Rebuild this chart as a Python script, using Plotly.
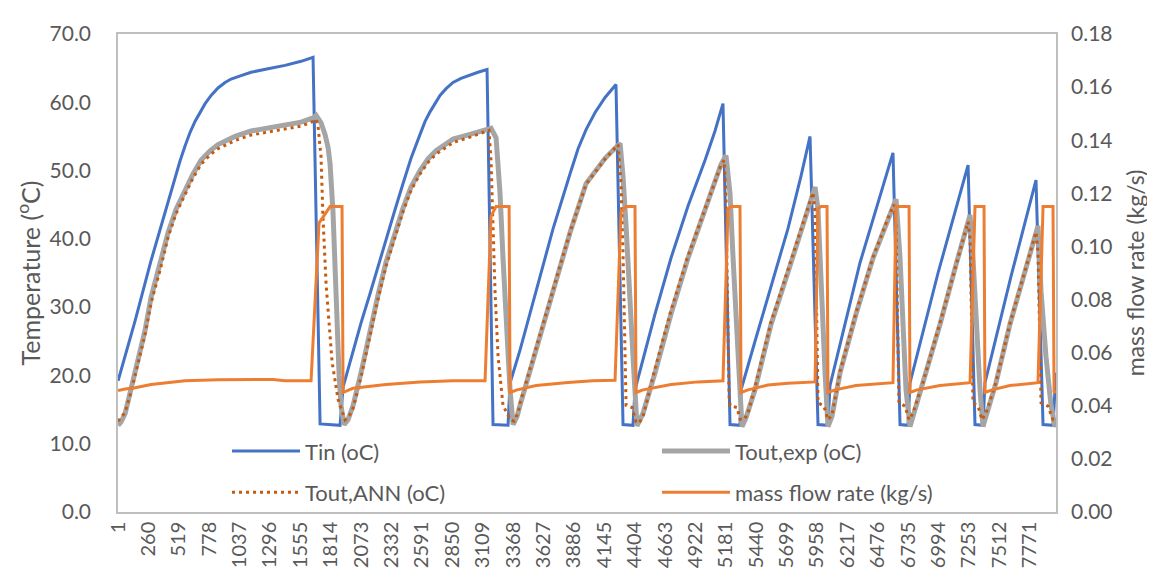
import plotly.graph_objects as go

# ---------------- data (sample index, value) ----------------
tin_x = [1, 27, 146, 282, 385, 427, 487, 529, 572, 615, 657, 700, 743, 794, 853, 913, 964, 1049, 1135, 1279, 1424, 1561, 1663, 1723, 1893,
         1919, 2004, 2072, 2149, 2217, 2285, 2362, 2430, 2498, 2575, 2618, 2660, 2703, 2745, 2797, 2856, 2924, 3001, 3069, 3146, 3197, 3325,
         3342, 3427, 3564, 3709, 3853, 3922, 3990, 4067, 4152, 4245, 4305, 4390,
         4407, 4578, 4714, 4859, 5004, 5089, 5157, 5217, 5302,
         5311, 5430, 5567, 5711, 5822, 5899, 5967, 6052,
         6069, 6325, 6606, 6666, 6734,
         6751, 6990, 7246, 7305, 7373,
         7390, 7612, 7825, 7885, 7970, 7995]
tin_y = [19.2, 20.8, 28.0, 36.8, 43.0, 45.6, 48.9, 51.4, 53.6, 55.6, 57.2, 58.6, 59.8, 61.0, 62.1, 62.9, 63.4, 63.9, 64.4, 64.9, 65.4, 66.0, 66.6, 12.9, 12.7,
         18.3, 23.6, 27.7, 32.0, 36.0, 40.0, 44.3, 48.1, 51.8, 55.3, 57.2, 58.6, 59.9, 61.0, 62.0, 62.9, 63.5, 64.0, 64.4, 64.8, 12.8, 12.7,
         18.9, 23.7, 32.3, 41.5, 49.5, 53.2, 56.0, 58.5, 60.7, 62.6, 12.8, 12.7,
         17.9, 29.0, 37.2, 44.8, 51.5, 55.8, 59.8, 12.8, 12.7,
         17.9, 25.0, 33.0, 41.5, 49.2, 55.0, 12.8, 12.7,
         18.5, 36.5, 52.6, 12.8, 12.7,
         18.9, 35.0, 50.8, 12.8, 12.7,
         18.9, 34.5, 48.6, 12.8, 12.7, 20.4]

texp_x = [1, 27, 61, 86, 112, 171, 231, 282, 359, 427, 495, 572, 640, 708, 785, 853, 998, 1135, 1279, 1424, 1561, 1663, 1689,
          1731, 1765, 1791, 1808, 1833, 1851, 1868, 1885, 1902, 1927,
          1961, 2004, 2072, 2149, 2217, 2285, 2362, 2430, 2498, 2575, 2643, 2711, 2788, 2856, 3001, 3138, 3180,
          3223, 3257, 3282, 3308, 3342, 3368,
          3402, 3427, 3564, 3709, 3853, 3990, 4152, 4280, 4305, 4331, 4365, 4390, 4424,
          4476, 4578, 4714, 4859, 5004, 5140, 5183, 5217, 5243, 5268, 5302, 5319,
          5353, 5430, 5567, 5711, 5856, 5942, 5967, 5993, 6027, 6052,
          6086, 6155, 6291, 6436, 6581, 6632, 6666, 6692, 6717, 6751,
          6785, 6862, 7007, 7143, 7263, 7288, 7314, 7348, 7373,
          7407, 7484, 7603, 7714, 7842, 7868, 7910, 7953, 7987, 7995]
texp_y = [12.7, 13.2, 14.4, 16.1, 18.0, 22.3, 26.6, 31.4, 36.1, 40.9, 44.3, 47.1, 49.5, 51.5, 52.9, 53.8, 55.0, 55.8, 56.2, 56.7, 57.1, 57.7, 58.1,
          57.0, 55.3, 53.4, 51.0, 44.0, 35.0, 27.0, 20.0, 15.5, 12.8,
          13.5, 15.6, 20.4, 26.6, 31.8, 36.6, 40.9, 44.5, 47.6, 50.0, 51.7, 52.9, 53.8, 54.6, 55.3, 56.0, 56.2,
          54.8, 46.6, 37.2, 27.5, 17.9, 12.8,
          14.0, 15.6, 23.7, 32.3, 40.9, 48.1, 51.8, 54.0, 49.1, 41.9, 32.3, 22.8, 12.6,
          14.5, 20.4, 29.0, 37.2, 44.3, 50.9, 52.2, 46.6, 37.2, 27.5, 17.9, 12.5,
          13.8, 17.9, 27.5, 35.1, 42.9, 47.6, 44.3, 32.3, 20.4, 12.5,
          14.0, 20.4, 29.0, 37.2, 43.8, 45.8, 37.2, 27.5, 17.9, 12.5,
          14.5, 18.9, 27.5, 36.2, 43.5, 37.2, 27.5, 17.9, 12.5,
          14.5, 18.9, 27.5, 34.3, 41.9, 32.3, 22.8, 15.6, 12.5, 12.8]

tann_x = [1, 61, 112, 171, 231, 282, 359, 427, 495, 572, 640, 708, 785, 853, 998, 1135, 1279, 1424, 1561, 1663, 1689,
          1706, 1731, 1748, 1774, 1799, 1825, 1876, 1936,
          1970, 2004, 2072, 2149, 2217, 2285, 2362, 2430, 2498, 2575, 2643, 2711, 2788, 2856, 3001, 3163,
          3180, 3197, 3214, 3240, 3282, 3342, 3376,
          3410, 3427, 3564, 3709, 3853, 3990, 4152, 4263, 4288, 4305, 4314, 4322, 4331, 4382, 4416, 4441,
          4476, 4578, 4714, 4859, 5004, 5140, 5166, 5183, 5191, 5200, 5209, 5217, 5277, 5302, 5336,
          5370, 5430, 5567, 5711, 5856, 5924, 5942, 5950, 5959, 5967, 6018, 6052,
          6086, 6155, 6291, 6436, 6581, 6615, 6632, 6640, 6649, 6657, 6709, 6743,
          6777, 6862, 7007, 7143, 7246, 7263, 7271, 7280, 7288, 7331, 7365,
          7399, 7484, 7603, 7714, 7825, 7842, 7851, 7859, 7868, 7927, 7970, 7995]
tann_y = [13.3, 14.6, 17.6, 21.8, 26.0, 30.6, 35.4, 40.2, 43.7, 46.5, 48.9, 50.9, 52.3, 53.2, 54.4, 55.2, 55.6, 56.1, 56.5, 57.2, 57.5,
          56.5, 52.0, 43.0, 33.4, 28.0, 22.0, 16.5, 13.5,
          14.0, 15.2, 19.8, 26.0, 31.2, 36.0, 40.3, 44.0, 47.1, 49.5, 51.2, 52.4, 53.3, 54.1, 54.9, 55.9,
          51.5, 41.9, 32.3, 22.8, 15.6, 13.6, 13.3,
          14.5, 15.9, 24.0, 32.5, 41.0, 48.0, 51.7, 53.8, 48.0, 38.0, 28.0, 20.0, 15.6, 15.3, 13.2, 13.0,
          14.0, 21.0, 29.5, 37.5, 44.5, 50.8, 51.5, 46.0, 36.0, 26.0, 17.0, 15.6, 15.3, 13.6, 13.5,
          14.5, 18.3, 27.8, 35.5, 43.0, 46.8, 44.0, 34.0, 24.0, 16.0, 15.5, 13.5,
          14.2, 20.6, 29.2, 37.3, 43.8, 45.0, 42.0, 32.0, 22.0, 16.0, 15.5, 13.5,
          14.5, 19.0, 27.7, 36.3, 42.5, 40.0, 30.0, 20.0, 16.0, 15.5, 13.5,
          14.5, 19.0, 27.6, 34.5, 41.0, 38.0, 28.0, 20.0, 16.0, 15.5, 13.5, 13.5]

flow_x = [1, 61, 146, 282, 572, 853, 1194, 1322, 1424, 1646, 1714, 1808, 1910,
          1919, 1970, 2004, 2285, 2575, 2856, 3129, 3180, 3223, 3334,
          3342, 3402, 3564, 3836, 4049, 4237, 4288, 4331, 4407,
          4416, 4476, 4714, 4944, 5157, 5200, 5226, 5302,
          5311, 5370, 5541, 5711, 5942, 5967, 5993, 6044,
          6052, 6112, 6291, 6606, 6632, 6743,
          6751, 6811, 7007, 7263, 7305, 7382,
          7390, 7450, 7603, 7842, 7885, 7970, 7979, 7995]
flow_y = [0.0457, 0.0463, 0.0468, 0.0480, 0.0494, 0.0498, 0.0499, 0.0499, 0.0494, 0.0494, 0.1088, 0.1150, 0.1150,
          0.0450, 0.0460, 0.0466, 0.0480, 0.0490, 0.0494, 0.0494, 0.1114, 0.1150, 0.1150,
          0.0450, 0.0460, 0.0476, 0.0488, 0.0494, 0.0496, 0.1130, 0.1150, 0.1150,
          0.0450, 0.0460, 0.0480, 0.0490, 0.0494, 0.1140, 0.1150, 0.1150,
          0.0450, 0.0460, 0.0478, 0.0485, 0.0490, 0.1143, 0.1150, 0.1150,
          0.0450, 0.0460, 0.0476, 0.0487, 0.1150, 0.1150,
          0.0450, 0.0460, 0.0476, 0.0487, 0.1150, 0.1150,
          0.0450, 0.0460, 0.0476, 0.0487, 0.1150, 0.1150, 0.0450, 0.0455]

n_samples = 7995
x_ticks = [1, 260, 519, 778, 1037, 1296, 1555, 1814, 2073, 2332, 2591, 2850, 3109,
           3368, 3627, 3886, 4145, 4404, 4663, 4922, 5181, 5440, 5699, 5958, 6217,
           6476, 6735, 6994, 7253, 7512, 7771]

FONT = "Lato, 'Open Sans', sans-serif"
TXT = "#595959"
AX = "#BFBFBF"

fig = go.Figure()
fig.add_trace(go.Scatter(x=tin_x, y=tin_y, mode="lines", name="Tin (oC)", showlegend=True,
                         line=dict(color="#4472C4", width=3), legend="legend"))
fig.add_trace(go.Scatter(x=texp_x, y=texp_y, mode="lines", name="Tout,exp (oC)", showlegend=True,
                         line=dict(color="#A5A5A5", width=5), legend="legend2"))
fig.add_trace(go.Scatter(x=tann_x, y=tann_y, mode="lines", name="Tout,ANN (oC)", showlegend=True,
                         line=dict(color="#C55A11", width=3, dash="3px,4px"), legend="legend3"))
fig.add_trace(go.Scatter(x=flow_x, y=flow_y, mode="lines", name="mass flow rate (kg/s)", showlegend=True,
                         yaxis="y2", line=dict(color="#ED7D31", width=3), legend="legend4"))


def leg(x, y):
    return dict(orientation="h", x=x, y=y, xanchor="left", yanchor="middle", itemwidth=68,
                bgcolor="rgba(0,0,0,0)", font=dict(size=22, color=TXT, family=FONT))


fig.update_layout(
    width=1155, height=572,
    showlegend=True,
    margin=dict(l=110, r=107, t=19, b=65, pad=0),
    paper_bgcolor="white", plot_bgcolor="white",
    font=dict(family=FONT, size=21, color=TXT),
    xaxis=dict(range=[0.5, n_samples + 0.5], tickvals=x_ticks, ticktext=[str(v) for v in x_ticks],
               tickangle=-90, showgrid=False, zeroline=False, showline=True, linecolor=AX,
               linewidth=1.5, mirror=True, ticks="", tickfont=dict(size=20)),
    yaxis=dict(range=[0, 70], dtick=10, tickformat=".1f", showgrid=False, zeroline=False,
               showline=True, linecolor=AX, linewidth=1.5, mirror=True, ticks="",
               ticklabelstandoff=21,
               title=dict(text="Temperature (<sup>o</sup>C)", font=dict(size=25), standoff=2)),
    yaxis2=dict(range=[0, 0.18], dtick=0.02, tickformat=".2f", overlaying="y", side="right",
                showgrid=False, zeroline=False, showline=False, ticks="", ticklabelstandoff=14,
                title=dict(text="mass flow rate (kg/s)", font=dict(size=23), standoff=16)),
    legend=leg(0.1162, 0.127),
    legend2=leg(0.5746, 0.127),
    legend3=leg(0.1162, 0.041),
    legend4=leg(0.5746, 0.041),
)

fig.write_html("out.html")
